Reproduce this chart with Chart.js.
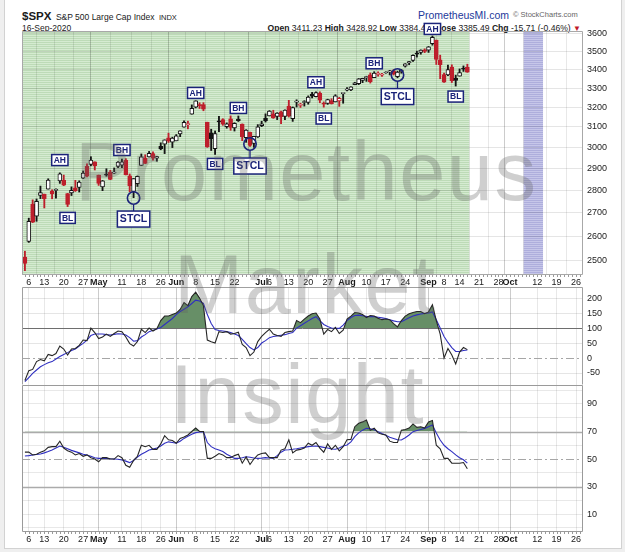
<!DOCTYPE html>
<html><head><meta charset="utf-8">
<script src="https://cdn.jsdelivr.net/npm/chart.js@4.4.1/dist/chart.umd.min.js"></script>
<style>
html,body{margin:0;padding:0;background:#efefef;width:625px;height:552px;overflow:hidden;font-family:"Liberation Sans",Arial,sans-serif;}
#card{position:absolute;left:4px;top:-2px;width:618px;height:551px;box-sizing:border-box;background:#fff;border:1px solid #d2d2d2;}
.wrap{position:absolute;left:0;width:625px;}
canvas{position:absolute;left:0;top:0;}
.hdr{position:absolute;white-space:nowrap;color:#1a1a1a;}
.wm{position:absolute;white-space:nowrap;font-family:"Liberation Sans",Arial,sans-serif;font-size:83px;line-height:83px;letter-spacing:1.5px;color:rgba(95,95,95,0.3);pointer-events:none;}
</style></head><body>
<div id="card"></div>
<div class="hdr" style="left:22px;top:9px;line-height:12px;"><b style="font-size:11.5px;">$SPX</b> <span style="font-size:8.5px;">S&amp;P 500 Large Cap Index</span> <span style="font-size:7.5px;">INDX</span></div>
<div class="hdr" style="left:22px;top:23px;line-height:10px;font-size:8.5px;">16-Sep-2020</div>
<div class="hdr" style="left:418px;top:9px;line-height:12px;font-size:10.5px;color:#23399a;">PrometheusMI.com</div>
<div class="hdr" style="left:513px;top:10px;line-height:10px;font-size:7.5px;color:#666;">&copy; StockCharts.com</div>
<div class="hdr" style="right:44px;top:23px;line-height:10px;font-size:8.6px;"><b>Open</b> 3411.23 <b>High</b> 3428.92 <b>Low</b> 3384.45 <b>Close</b> 3385.49 <b>Chg</b> -15.71 (-0.46%) <span style="color:#c0182a;font-size:8px;">&#9660;</span></div>
<div class="wrap" style="top:0;height:287px;"><canvas id="cPrice" width="625" height="287"></canvas></div>
<div class="wrap" style="top:287px;height:98px;"><canvas id="cCci" width="625" height="98"></canvas></div>
<div class="wrap" style="top:385px;height:160px;"><canvas id="cRsi" width="625" height="160"></canvas></div>
<div class="wm" style="left:75px;top:130px;">Prometheus</div>
<div class="wm" style="left:174px;top:243px;">Market</div>
<div class="wm" style="left:170px;top:353px;">Insight</div>
<script>
// ---------- DATA ----------
const holidays = ['2020-04-10','2020-05-25','2020-07-03','2020-09-07'];
const priorClose = 2526.90; // close of 2020-04-02
const open  = [2514.92,2578.28,2738.65,2685.00,2776.99,2782.46,2805.10,2795.64,2799.34,2842.43,
 2845.62,2784.81,2787.89,2810.42,2812.64,2854.65,2909.96,2918.46,2930.91,2869.09,
 2815.01,2868.88,2883.14,2878.26,2908.83,2915.46,2939.50,2865.86,2794.54,2829.95,
 2913.86,2948.59,2953.63,2969.95,2948.05,3004.08,3015.65,3046.61,3025.17,3031.48,
 3064.78,3098.90,3111.56,3163.84,3199.92,3213.32,3213.42,3123.53,3071.04,2993.76,
 3131.00,3136.13,3101.64,3140.29,3094.42,3138.70,3114.40,3046.60,3073.20,3018.59,
 3050.20,3105.92,3143.64,3155.29,3166.44,3153.07,3176.17,3152.47,3205.08,3141.11,
 3225.98,3208.36,3224.21,3224.29,3268.52,3254.86,3271.64,3218.58,3219.84,3234.27,
 3227.22,3231.76,3270.45,3288.26,3289.92,3317.37,3323.17,3340.05,3356.04,3370.34,
 3355.46,3372.95,3368.66,3380.86,3387.04,3392.51,3360.48,3386.01,3418.09,3435.95,
 3449.97,3485.14,3494.69,3509.73,3507.44,3543.76,3564.74,3453.60,3371.88,3369.82,
 3412.56,3352.70,3363.56,3407.73,3411.23];
const high  = [2538.18,2676.85,2756.89,2760.75,2818.57,2782.46,2851.85,2801.88,2806.51,2879.22,
 2868.98,2785.54,2815.10,2844.90,2842.71,2887.72,2921.15,2954.86,2930.91,2869.09,
 2844.24,2898.23,2891.11,2901.92,2932.16,2944.25,2945.82,2874.14,2852.80,2865.01,
 2968.09,2964.21,2980.29,2978.50,2956.76,3021.72,3036.25,3068.67,3049.17,3062.18,
 3081.07,3130.94,3128.91,3211.72,3233.13,3222.71,3223.27,3123.53,3088.42,3079.76,
 3153.45,3141.16,3120.00,3155.53,3120.92,3154.90,3115.01,3086.25,3073.73,3053.89,
 3111.51,3128.44,3165.81,3182.59,3184.15,3171.80,3179.78,3186.82,3235.32,3200.95,
 3238.28,3220.39,3233.52,3258.61,3277.29,3279.32,3279.99,3227.26,3241.43,3243.72,
 3264.74,3250.92,3272.17,3302.73,3306.84,3330.77,3351.03,3352.54,3363.29,3381.01,
 3387.89,3387.24,3378.51,3387.59,3395.06,3399.54,3390.80,3399.96,3432.09,3444.21,
 3481.07,3501.38,3509.23,3514.77,3528.03,3588.11,3564.85,3479.15,3379.97,3424.77,
 3425.55,3368.95,3402.93,3419.48,3428.92];
const low   = [2459.96,2574.57,2657.67,2663.30,2762.36,2721.17,2805.10,2761.54,2764.32,2830.88,
 2820.43,2727.10,2775.95,2794.26,2791.76,2852.89,2860.71,2912.16,2892.47,2821.61,
 2797.85,2863.55,2847.65,2876.48,2902.88,2903.44,2869.59,2793.15,2766.64,2816.78,
 2913.86,2922.35,2953.63,2938.57,2933.59,2988.17,2969.75,3023.40,2998.61,3031.48,
 3051.64,3098.90,3090.41,3163.84,3196.00,3193.11,3181.49,2999.49,2984.47,2965.66,
 3076.06,3108.03,3093.51,3083.11,3079.39,3127.12,3032.13,3024.01,3004.63,2999.74,
 3047.83,3101.17,3124.52,3155.29,3142.93,3136.53,3115.70,3136.22,3149.43,3127.66,
 3200.76,3198.59,3205.65,3215.16,3247.77,3253.10,3222.66,3200.05,3214.25,3216.17,
 3227.22,3204.13,3220.26,3284.53,3286.37,3317.37,3318.14,3328.72,3335.44,3326.44,
 3355.46,3363.35,3361.64,3379.22,3370.15,3369.66,3354.69,3379.31,3413.13,3425.84,
 3444.15,3468.35,3484.32,3493.25,3494.60,3535.23,3427.41,3349.63,3329.27,3366.84,
 3329.25,3310.47,3363.56,3389.25,3384.45];
const close = [2488.65,2663.68,2659.41,2749.98,2789.82,2761.63,2846.06,2783.36,2799.55,2874.56,
 2823.16,2736.56,2799.31,2797.80,2836.74,2878.48,2863.39,2939.51,2912.43,2830.71,
 2842.74,2868.44,2848.42,2881.19,2929.80,2930.19,2870.12,2820.00,2852.50,2863.70,
 2953.91,2922.94,2971.61,2948.51,2955.45,2991.77,3036.13,3029.73,3044.31,3055.73,
 3080.82,3122.87,3112.35,3193.93,3232.39,3207.18,3190.14,3002.10,3041.31,3066.59,
 3124.74,3113.49,3115.34,3097.74,3117.86,3131.29,3050.33,3083.76,3009.05,3053.24,
 3100.29,3115.86,3130.01,3179.72,3145.32,3169.94,3152.05,3185.04,3155.22,3197.52,
 3226.56,3215.57,3224.73,3251.84,3257.30,3276.02,3235.66,3215.63,3239.41,3218.44,
 3258.44,3246.22,3271.12,3294.61,3306.51,3327.77,3349.16,3351.28,3360.47,3333.69,
 3380.35,3373.43,3372.85,3381.99,3389.78,3374.85,3385.51,3397.16,3431.28,3443.62,
 3478.73,3484.55,3508.01,3500.31,3526.65,3580.84,3455.06,3426.96,3331.84,3398.96,
 3339.19,3340.97,3383.54,3401.20,3385.49];
const cci   = [-75,-42,-38,-12,-5,-9,12,8,15,40,
 30,10,30,32,42,60,58,100,85,65,
 70,80,72,82,90,88,70,48,40,55,
 96,85,100,90,98,125,140,140,145,150,
 162,185,175,205,220,200,175,60,54,50,
 88,85,88,80,82,86,45,35,8,20,
 55,72,85,96,80,75,72,85,88,90,
 125,118,130,140,148,150,130,80,95,88,
 102,82,93,130,140,152,150,145,135,142,
 140,133,128,130,128,115,104,125,140,148,
 152,155,155,148,154,178,125,80,0,32,
 10,-20,20,35,28];
const cciMA = [-79,-65,-51,-40,-29,-22,-16,-12,-3,5,
 12,18,25,30,40,49,60,75,80,80,
 80,78,77,79,81,80,77,68,56,58,
 70,78,88,93,97,102,112,122,132,145,
 155,163,171,182,193,190,182,145,115,95,
 92,90,88,85,80,75,62,48,35,27,
 35,50,58,68,72,74,76,78,82,85,
 100,108,116,124,132,138,125,112,105,100,
 99,99,110,125,135,142,143,141,139,138,
 138,136,134,132,128,124,121,121,128,134,
 140,144,147,149,150,154,128,100,72,52,
 35,22,22,25,27];
const rsi   = [55,55,53,53.5,55,56,58.5,59,59,63,
 58,56,55,53,54,52,53,51,50,48,
 51,51,50,50,52.5,51,45.5,44,49,52,
 60,59,60,57,57,61,67,64,63.5,61.5,
 65,66,67.5,70,72.5,70,70,50.5,50.5,52,
 54,53,51,51,52.5,53.5,47,51.5,46,50,
 53,54,54.5,51,51,51,56.5,57.5,64,54.5,
 56.5,57,58,61.5,60,62,58,55,61,57,
 60,56,59,64,64.3,73.5,76,77,78.4,71,
 72.5,69,68,67.5,63,62,62,71,71.5,72.5,
 75.5,73,73.5,72.5,77,78,60,57.5,50.5,50.5,
 47,47,47,47.5,43];
const rsiMA = [52.2,52.5,52.9,53.3,53.7,54.5,55.5,56.6,58,59.5,
 58.5,57.5,56.3,55.4,54.5,53.5,52.9,52,51,50.5,
 50.5,50.5,50.2,50,49.8,49.3,48.5,47.4,49,51.5,
 53.5,55,56.6,57.2,58,59.5,61.5,62.5,62,61.5,
 63,65,66.5,68,69.2,69.6,69.9,62,59,57.5,
 56.6,55.5,53.5,52,50.5,50.5,51,51.7,51.3,50.8,
 50.5,50.7,51,50.8,50.5,52.5,55,56.6,56.8,57.1,
 57.5,58,58.5,59,59.3,59.5,59,58.5,58,57.3,
 57.1,58,59.5,60.2,62.5,66.3,69,71,72.3,72,
 71.3,69.9,68.5,67.3,65.8,65,64,63.8,65.5,67.5,
 69.9,70.8,71.5,72.3,73.5,74.7,69,63.8,60,57.5,
 55.4,53,51,49.5,47];
const xTicks = [['2020-04-06','6'],['2020-04-13','13'],['2020-04-20','20'],['2020-04-27','27'],
 ['2020-05-01','May'],['2020-05-11','11'],['2020-05-18','18'],['2020-05-26','26'],
 ['2020-06-01','Jun'],['2020-06-08','8'],['2020-06-15','15'],['2020-06-22','22'],
 ['2020-07-01','Jul'],['2020-07-06','6'],['2020-07-13','13'],['2020-07-20','20'],['2020-07-27','27'],
 ['2020-08-03','Aug'],['2020-08-10','10'],['2020-08-17','17'],['2020-08-24','24'],
 ['2020-09-01','Sep'],['2020-09-08','8'],['2020-09-14','14'],['2020-09-21','21'],['2020-09-28','28'],
 ['2020-10-01','Oct'],['2020-10-12','12'],['2020-10-19','19'],['2020-10-26','26']];
const priceTicks = [2500,2600,2700,2800,2900,3000,3100,3200,3300,3400,3500,3600];
const cciTicks = [-50,0,50,100,150,200];
const rsiTicks = [0,10,20,30,40,50,60,70,80,90,100];
const rsiLabels = [10,30,50,70,90];
const projWindow = ['2020-10-07','2020-10-13'];
const marks = [
 {date:'2020-04-17', price:2939, text:'AH'},
 {date:'2020-04-21', price:2678, text:'BL'},
 {date:'2020-05-11', price:2987, text:'BH'},
 {date:'2020-05-14', price:2673, circle:2765, text:'STCL'},
 {date:'2020-06-08', price:3274, text:'AH'},
 {date:'2020-06-15', price:2921, text:'BL'},
 {date:'2020-06-23', price:3196, text:'BH'},
 {date:'2020-06-26', price:2911, circle:3016, text:'STCL'},
 {date:'2020-07-22', price:3331, text:'AH'},
 {date:'2020-07-24', price:3142, text:'BL'},
 {date:'2020-08-12', price:3434, text:'BH'},
 {date:'2020-08-20', price:3255, circle:3370, text:'STCL'},
 {date:'2020-09-02', price:3629, text:'AH'},
 {date:'2020-09-11', price:3255, text:'BL'}
];

// ---------- HELPERS ----------
function buildSessions(start, end){
  const out=[]; const d=new Date(start+'T00:00:00Z'); const e=new Date(end+'T00:00:00Z');
  while(d<=e){ const wd=d.getUTCDay(); const s=d.toISOString().slice(0,10);
    if(wd!==0&&wd!==6&&!holidays.includes(s)) out.push(s);
    d.setUTCDate(d.getUTCDate()+1); }
  return out;
}
const sessions = buildSessions('2020-04-03','2020-10-30');
const idxOf = d => sessions.indexOf(d);
const lastIdx = close.length-1;
const X_MIN = -0.75, X_MAX = 143.8;
const FONT = '"Liberation Sans", Arial, sans-serif';
Chart.defaults.font.family = FONT;
const RED='#bd1f2c', BLK='#141414', NAVY='#1b237a';
const isMonth = i => /[A-Za-z]/.test(xTicks[i] ? xTicks[i][1] : '');
const noPad = s => { s.paddingTop = 0; s.paddingBottom = 0; s.paddingLeft = 0; s.paddingRight = 0; };

function stripe(c1,c2){
  const p=document.createElement('canvas'); p.width=1; p.height=2;
  const g=p.getContext('2d'); g.fillStyle=c1; g.fillRect(0,0,1,1); g.fillStyle=c2; g.fillRect(0,1,1,1);
  return g.createPattern(p,'repeat');
}

function xScaleCfg(showLabels, h){
  return {
    type:'linear', min:X_MIN, max:X_MAX, offset:false,
    afterBuildTicks: s => { s.ticks = xTicks.map(t => ({value: idxOf(t[0])})); },
    afterFit: s => { s.height = h; noPad(s); },
    ticks:{display:showLabels, autoSkip:false, maxRotation:0, minRotation:0, padding:2, color:'#1a1a1a',
      font: c => ({family:FONT, size:9, weight: isMonth(c.index) ? 'bold' : 'normal'}),
      callback: (v,i) => xTicks[i] ? xTicks[i][1] : ''},
    grid:{drawTicks:false, color: c => isMonth(c.index) ? 'rgba(0,0,0,0.2)' : 'rgba(0,0,0,0.09)', lineWidth:1},
    border:{display:false}
  };
}
function yScaleCfg(extra){
  return Object.assign({
    position:'right',
    afterFit: s => { s.width = 42; noPad(s); },
    border:{display:false}
  }, extra);
}

const framePlugin = {
  id:'frame',
  afterDatasetsDraw(chart, args, o){
    const {ctx, chartArea:a, scales:{x}} = chart;
    const L = Math.round(a.left)+0.5, R = Math.round(a.right)-0.5, T = Math.round(a.top)+0.5, B = Math.round(a.bottom)-0.5;
    ctx.save();
    ctx.strokeStyle = o.color || '#a8a8a8'; ctx.lineWidth = 1;
    ctx.beginPath();
    ctx.moveTo(L, B); ctx.lineTo(L, T); ctx.lineTo(R, T); ctx.lineTo(R, B);
    if(!o.noBottom) ctx.lineTo(L, B);
    ctx.stroke();
    if(o.minor){
      ctx.fillStyle = '#9a9a9a';
      for(let i=0;i<sessions.length;i++){
        const px = x.getPixelForValue(i);
        if(px < a.left || px > a.right) continue;
        ctx.fillRect(Math.round(px), a.bottom, 1, 2);
      }
    }
    ctx.restore();
  }
};

const refPlugin = {
  id:'refs',
  beforeDatasetsDraw(chart, args, o){
    if(!o.lines) return;
    const {ctx, chartArea:a, scales:{y}} = chart;
    ctx.save();
    o.lines.forEach(l => {
      const py = Math.round(y.getPixelForValue(l.value)) + 0.5;
      ctx.beginPath(); ctx.setLineDash(l.dash || []); ctx.strokeStyle = l.color; ctx.lineWidth = l.width || 1;
      ctx.moveTo(a.left, py); ctx.lineTo(a.right, py); ctx.stroke();
    });
    ctx.restore();
  }
};

const bandsPlugin = {
  id:'bands',
  beforeDraw(chart){
    const {ctx, chartArea:a, scales:{x}} = chart;
    ctx.save();
    ctx.beginPath(); ctx.rect(a.left, a.top, a.width, a.height); ctx.clip();
    const xg = x.getPixelForValue(lastIdx + 0.5);
    ctx.fillStyle = stripe('#bddbb7','#d5ebd1');
    ctx.fillRect(a.left, a.top, xg - a.left, a.height);
    const p0 = x.getPixelForValue(idxOf(projWindow[0]) - 0.5), p1 = x.getPixelForValue(idxOf(projWindow[1]) + 0.5);
    ctx.fillStyle = stripe('#aeaedc','#c6c6e9');
    ctx.fillRect(p0, a.top, p1 - p0, a.height);
    ctx.restore();
  }
};

const marksPlugin = {
  id:'marks',
  afterDraw(chart){
    const {ctx, scales:{x,y}} = chart;
    ctx.save();
    marks.forEach(m => {
      const px = x.getPixelForValue(idxOf(m.date));
      const big = m.text === 'STCL';
      const by = y.getPixelForValue(m.price);
      ctx.font = big ? 'bold 10.5px '+FONT : 'bold 8.5px '+FONT;
      const w = ctx.measureText(m.text).width + (big ? 5 : 4), h = big ? 16 : 11;
      ctx.strokeStyle = NAVY;
      if(m.circle){
        const cy = y.getPixelForValue(m.circle);
        ctx.lineWidth = 1.6;
        ctx.beginPath(); ctx.arc(px, cy, 6.2, 0, Math.PI*2); ctx.stroke();
        ctx.lineWidth = 1.3;
        ctx.beginPath(); ctx.moveTo(px, cy + 6.2); ctx.lineTo(px, by - h/2); ctx.stroke();
      }
      ctx.fillStyle = '#fff';
      ctx.fillRect(px - w/2, by - h/2, w, h);
      ctx.lineWidth = 1.5;
      ctx.strokeRect(px - w/2, by - h/2, w, h);
      ctx.fillStyle = NAVY; ctx.textAlign = 'center'; ctx.textBaseline = 'middle';
      ctx.fillText(m.text, px, by + 0.5);
    });
    ctx.restore();
  }
};

// ---------- PRICE PANEL ----------
const candleColor = close.map((c,i) => c >= (i ? close[i-1] : priorClose) ? BLK : RED);
const hollow = close.map((c,i) => c >= open[i]);
new Chart(document.getElementById('cPrice'), {
  type:'bar',
  data:{datasets:[
    {label:'wick', order:1, grouped:false, barThickness:1.2, borderWidth:0,
     data: low.map((l,i) => ({x:i, y:[l, high[i]]})), backgroundColor: candleColor},
    {label:'body', order:0, grouped:false, barThickness:4, borderWidth:1, borderSkipped:false, minBarLength:1,
     data: open.map((o,i) => ({x:i, y:[o, close[i]]})),
     backgroundColor: hollow.map((h,i) => h ? '#ffffff' : candleColor[i]), borderColor: candleColor}
  ]},
  options:{
    responsive:false, animation:false, devicePixelRatio:1,
    layout:{padding:{left:22, top:31, right:0, bottom:0}},
    plugins:{legend:{display:false}, tooltip:{enabled:false}, frame:{color:'#a8a8a8', minor:true}},
    scales:{
      x: xScaleCfg(true, 12),
      y: yScaleCfg({type:'logarithmic', min:2443, max:3617,
        afterBuildTicks: s => { s.ticks = priceTicks.map(v => ({value:v})); },
        ticks:{autoSkip:false, callback: v => String(v), color:'#222', font:{size:9}, padding:4},
        grid:{drawTicks:false, color:'rgba(0,0,0,0.1)'}})
    }
  },
  plugins:[bandsPlugin, framePlugin, marksPlugin]
});

// ---------- CCI PANEL ----------
new Chart(document.getElementById('cCci'), {
  type:'line',
  data:{datasets:[
    {label:'CCI', order:0, data: cci.map((v,i) => ({x:i, y:v})), borderColor:'#262626', borderWidth:1.1,
     pointRadius:0, tension:0, fill:{target:{value:100}, above:'#678f67', below:'rgba(0,0,0,0)'}},
    {label:'CCI MA', order:1, data: cciMA.map((v,i) => ({x:i, y:v})), borderColor:'#2f2fc0', borderWidth:1.1,
     pointRadius:0, tension:0, fill:false}
  ]},
  options:{
    responsive:false, animation:false, devicePixelRatio:1,
    layout:{padding:{left:22, top:0, right:0, bottom:0}},
    plugins:{legend:{display:false}, tooltip:{enabled:false}, filler:{drawTime:'beforeDatasetsDraw'},
      frame:{color:'#a0a0a0', noBottom:true},
      refs:{lines:[{value:100, color:'#6e6e6e', width:1},{value:0, color:'#a6a6a6', width:1, dash:[8,3,2,3]}]}},
    scales:{
      x: xScaleCfg(false, 0),
      y: yScaleCfg({type:'linear', min:-90, max:237,
        afterBuildTicks: s => { s.ticks = cciTicks.map(v => ({value:v})); },
        ticks:{autoSkip:false, callback: v => String(v), color:'#222', font:{size:9}, padding:4},
        grid:{drawTicks:false, color: c => (c.tick && (c.tick.value === 0 || c.tick.value === 100)) ? 'rgba(0,0,0,0)' : 'rgba(0,0,0,0.1)'}})
    }
  },
  plugins:[refPlugin, framePlugin]
});

// ---------- RSI PANEL ----------
new Chart(document.getElementById('cRsi'), {
  type:'line',
  data:{datasets:[
    {label:'RSI', order:0, data: rsi.map((v,i) => ({x:i, y:v})), borderColor:'#262626', borderWidth:1.1,
     pointRadius:0, tension:0, fill:{target:{value:70}, above:'#678f67', below:'rgba(0,0,0,0)'}},
    {label:'RSI MA', order:1, data: rsiMA.map((v,i) => ({x:i, y:v})), borderColor:'#2f2fc0', borderWidth:1.1,
     pointRadius:0, tension:0, fill:false}
  ]},
  options:{
    responsive:false, animation:false, devicePixelRatio:1,
    layout:{padding:{left:22, top:0, right:0, bottom:0}},
    plugins:{legend:{display:false}, tooltip:{enabled:false}, filler:{drawTime:'beforeDatasetsDraw'},
      frame:{color:'#9a9a9a', minor:true},
      refs:{lines:[{value:70, color:'#ababab', width:1.6},{value:30, color:'#ababab', width:1.6},{value:50, color:'#a6a6a6', width:1, dash:[8,3,2,3]}]}},
    scales:{
      x: xScaleCfg(true, 13),
      y: yScaleCfg({type:'linear', min:-3, max:103.8,
        afterBuildTicks: s => { s.ticks = rsiTicks.map(v => ({value:v})); },
        ticks:{autoSkip:false, callback: v => rsiLabels.includes(v) ? String(v) : '', color:'#222', font:{size:9}, padding:4},
        grid:{drawTicks:false, color: c => (c.tick && [30,50,70].includes(c.tick.value)) ? 'rgba(0,0,0,0)' : 'rgba(0,0,0,0.09)'}})
    }
  },
  plugins:[refPlugin, framePlugin]
});
</script>
</body></html>
